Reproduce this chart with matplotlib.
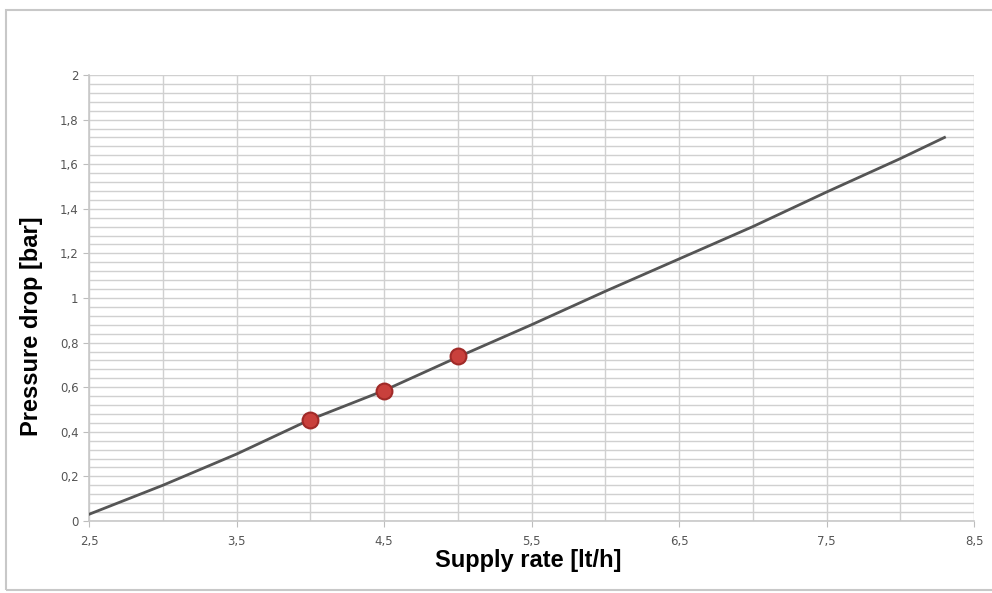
import numpy as np
import matplotlib.pyplot as plt
from matplotlib.patches import Rectangle

# curve
supply = [2.5, 3.0, 3.5, 4.0, 4.5, 5.0, 5.5, 6.0, 6.5, 7.0, 7.5, 8.0, 8.3]
drop = [0.03, 0.16, 0.30, 0.455, 0.585, 0.735, 0.88, 1.03, 1.175, 1.32, 1.475, 1.625, 1.72]

# highlighted points
pt_supply = [4.0, 4.5, 5.0]
pt_drop = [0.455, 0.585, 0.74]

x_ticks = [2.5, 3.5, 4.5, 5.5, 6.5, 7.5, 8.5]
y_ticks = [0, 0.2, 0.4, 0.6, 0.8, 1.0, 1.2, 1.4, 1.6, 1.8, 2.0]


def comma(v):
    s = ("%g" % v)
    return s.replace(".", ",")


fig = plt.figure(figsize=(9.92, 5.93), dpi=100)
ax = fig.add_axes([89 / 992, 1 - 521 / 593, (974 - 89) / 992, (521 - 75) / 593])

# outer frame of the chart area
fig.patches.append(Rectangle((6 / 992, 3 / 593), 1.2, (593 - 13) / 593,
                             transform=fig.transFigure, fill=False,
                             edgecolor="#c8c8c8", linewidth=1.5))

ax.set_xlim(2.5, 8.5)
ax.set_ylim(0, 2)

ax.set_xticks(x_ticks)
ax.set_xticklabels([comma(v) for v in x_ticks])
ax.set_xticks(np.arange(3.0, 8.5, 1.0), minor=True)
ax.set_yticks(y_ticks)
ax.set_yticklabels([comma(v) for v in y_ticks])
ax.set_yticks(np.arange(0, 2.001, 0.04), minor=True)

ax.grid(True, which="both", color="#d0d0d0", linewidth=1.0)
ax.set_axisbelow(True)

for side in ["top", "right"]:
    ax.spines[side].set_visible(False)
ax.spines["left"].set_color("#c8c8c8")
ax.spines["bottom"].set_color("#c8c8c8")
ax.spines["left"].set_linewidth(1.2)
ax.spines["bottom"].set_linewidth(1.2)

ax.tick_params(axis="both", which="major", length=4, color="#bdbdbd",
               labelsize=8.5, labelcolor="#555555")
ax.tick_params(axis="x", which="major", pad=6)
ax.tick_params(axis="y", which="minor", length=0)
ax.tick_params(axis="x", which="minor", length=0)

ax.plot(supply, drop, color="#555555", linewidth=2, zorder=3)
ax.scatter(pt_supply, pt_drop, s=130, color="#c9403c", edgecolor="#a02a28",
           linewidth=1.5, zorder=4)

ax.set_xlabel("Supply rate [lt/h]", fontsize=17, fontweight="bold",
              family="Liberation Sans")
ax.set_ylabel("Pressure drop [bar]", fontsize=17, fontweight="bold",
              family="Liberation Sans")
ax.xaxis.set_label_coords((528 - 89) / 885, -(560 - 521) / 446)
ax.yaxis.set_label_coords((32 - 89) / 885, (521 - 326) / 446)
ax.xaxis.label.set_va("center")
ax.yaxis.label.set_va("center")

fig.savefig("out.png", dpi=100)
